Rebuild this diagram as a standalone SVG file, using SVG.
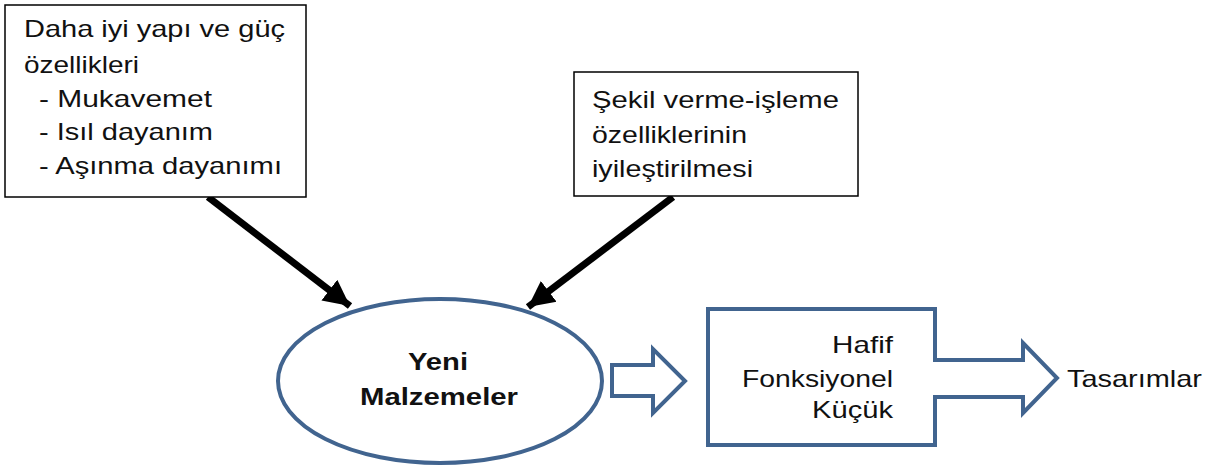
<svg xmlns="http://www.w3.org/2000/svg" width="1226" height="466" viewBox="0 0 1226 466">
<style>
text{font-family:"Liberation Sans",Arial,sans-serif;font-size:24px;fill:#111}
.box{fill:#fff;stroke:#000;stroke-width:1.5}
.blue{fill:#fff;stroke:#41648f;stroke-width:4}
.conn{stroke:#000;stroke-width:7;fill:none}
.b{font-weight:bold;font-size:24px}
</style>
<defs>
<marker id="ah" markerUnits="userSpaceOnUse" markerWidth="30" markerHeight="30" viewBox="0 0 30 30" refX="26" refY="15" orient="auto">
<path d="M0,2 L26,15 L0,28 Z" fill="#000"/>
</marker>
</defs>
<rect width="1226" height="466" fill="#fff"/>
<g id="connectors">
<line class="conn" x1="208" y1="197" x2="350" y2="306" marker-end="url(#ah)"/>
<line class="conn" x1="673" y1="197" x2="528" y2="307" marker-end="url(#ah)"/>
<path class="blue" d="M612,365 L653,365 L653,349 L685,381 L653,413 L653,396 L612,396 Z" stroke-linejoin="miter"/>
</g>
<g id="box1">
<rect class="box" x="5" y="5" width="301" height="192"/>
<text x="24" y="37" textLength="261" lengthAdjust="spacingAndGlyphs">Daha iyi yapı ve güç</text>
<text x="24" y="73" textLength="115" lengthAdjust="spacingAndGlyphs">özellikleri</text>
<text x="39" y="107" textLength="173" lengthAdjust="spacingAndGlyphs">- Mukavemet</text>
<text x="39" y="140" textLength="174" lengthAdjust="spacingAndGlyphs">- Isıl dayanım</text>
<text x="39" y="174" textLength="243" lengthAdjust="spacingAndGlyphs">- Aşınma dayanımı</text>
</g>
<g id="box2">
<rect class="box" x="574" y="72" width="284" height="124"/>
<text x="592" y="108" textLength="247" lengthAdjust="spacingAndGlyphs">Şekil verme-işleme</text>
<text x="592" y="143" textLength="155" lengthAdjust="spacingAndGlyphs">özelliklerinin</text>
<text x="592" y="177" textLength="161" lengthAdjust="spacingAndGlyphs">iyileştirilmesi</text>
</g>
<g id="ellipse">
<ellipse class="blue" cx="440" cy="381" rx="162" ry="82"/>
<text class="b" x="408" y="370" textLength="60" lengthAdjust="spacingAndGlyphs">Yeni</text>
<text class="b" x="360" y="405" textLength="158" lengthAdjust="spacingAndGlyphs">Malzemeler</text>
</g>
<g id="box3">
<path class="blue" d="M708,309 L935,309 L935,360 L1023,360 L1023,343 L1057,378 L1023,413 L1023,397 L935,397 L935,445 L708,445 Z"/>
<text x="832" y="353" textLength="61" lengthAdjust="spacingAndGlyphs">Hafif</text>
<text x="742" y="387" textLength="151" lengthAdjust="spacingAndGlyphs">Fonksiyonel</text>
<text x="812" y="418" textLength="81" lengthAdjust="spacingAndGlyphs">Küçük</text>
</g>
<g id="tasarimlar">
<text x="1067" y="387" textLength="135" lengthAdjust="spacingAndGlyphs">Tasarımlar</text>
</g>
</svg>
